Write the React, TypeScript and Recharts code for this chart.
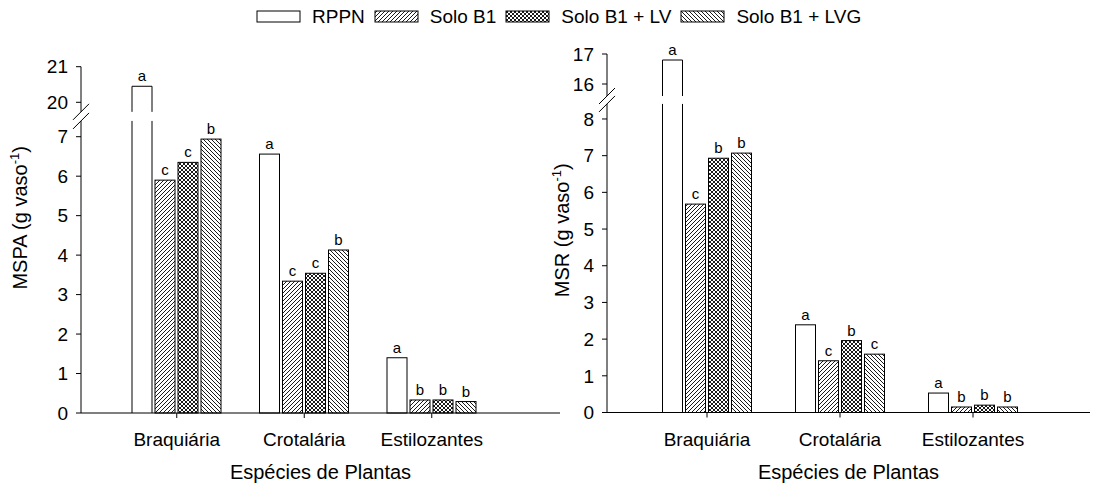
import React from 'react'
import {
  Bar,
  BarChart,
  LabelList,
  Legend,
  ReferenceArea,
  XAxis,
  YAxis,
} from 'recharts'

const categories = ['Braquiária', 'Crotalária', 'Estilozantes']
const seriesNames = ['RPPN', 'Solo B1', 'Solo B1 + LV', 'Solo B1 + LVG']

// MSPA (g vaso-1)
const mspaRppn = [20.45, 6.56, 1.4]
const mspaB1 = [5.9, 3.34, 0.33]
const mspaLv = [6.35, 3.54, 0.33]
const mspaLvg = [6.94, 4.13, 0.29]
const mspaLetters = [
  ['a', 'c', 'c', 'b'],
  ['a', 'c', 'c', 'b'],
  ['a', 'b', 'b', 'b'],
]
const mspaLowTicks = [0, 1, 2, 3, 4, 5, 6, 7]
const mspaHighTicks = [20, 21]

// MSR (g vaso-1)
const msrRppn = [16.8, 2.39, 0.53]
const msrB1 = [5.68, 1.41, 0.15]
const msrLv = [6.93, 1.96, 0.2]
const msrLvg = [7.07, 1.59, 0.15]
const msrLetters = [
  ['a', 'c', 'b', 'b'],
  ['a', 'c', 'b', 'c'],
  ['a', 'b', 'b', 'b'],
]
const msrLowTicks = [0, 1, 2, 3, 4, 5, 6, 7, 8]
const msrHighTicks = [16, 17]

// broken axis: below gapLow values are drawn as is, above gapHigh they are squeezed
type Brk = { gapLow: number; gapHigh: number; base: number; baseAt: number; k: number }
const mspaBreak: Brk = { gapLow: 7.4, gapHigh: 7.63, base: 20, baseAt: 7.872, k: 0.902 }
const msrBreak: Brk = { gapLow: 8.41, gapHigh: 8.626, base: 16, baseAt: 8.953, k: 0.818 }

const toDisp = (v: number, b: Brk) => (v <= b.gapLow ? v : b.baseAt + (v - b.base) * b.k)
const fromDisp = (d: number, b: Brk) => (d <= b.gapLow ? d : b.base + (d - b.baseAt) / b.k)

function buildRows(series: number[][], letters: string[][], b: Brk) {
  return categories.map((name, i) => {
    const row: Record<string, string | number> = { name }
    series.forEach((s, j) => {
      row['v' + j] = toDisp(s[i], b)
      row['l' + j] = letters[i][j]
    })
    return row
  })
}

const FONT = '"Liberation Sans", Arial, sans-serif'

const fills = (p: string) => ['#fff', `url(#${p}-fwd)`, `url(#${p}-cross)`, `url(#${p}-back)`]

function Patterns({ p }: { p: string }) {
  return (
    <defs>
      <pattern id={`${p}-fwd`} patternUnits="userSpaceOnUse" width="4" height="4">
        <rect width="4" height="4" fill="#fff" />
        <path d="M-1,1 l2,-2 M0,4 l4,-4 M3,5 l2,-2" stroke="#000" strokeWidth="0.9" />
      </pattern>
      <pattern id={`${p}-back`} patternUnits="userSpaceOnUse" width="4" height="4">
        <rect width="4" height="4" fill="#fff" />
        <path d="M-1,3 l2,2 M0,0 l4,4 M3,-1 l2,2" stroke="#000" strokeWidth="0.9" />
      </pattern>
      <pattern id={`${p}-cross`} patternUnits="userSpaceOnUse" width="4" height="4">
        <rect width="4" height="4" fill="#fff" />
        <path d="M0,0 l4,4 M4,0 l-4,4" stroke="#000" strokeWidth="0.9" />
      </pattern>
    </defs>
  )
}

function makeShape(fill: string, key: string, b: Brk) {
  return (props: any) => {
    const { x, y, width, height, payload } = props
    const d = payload[key]
    if (!width || !height || d <= 0) return <g />
    const base = y + height
    if (d <= b.gapHigh)
      return <rect x={x} y={y} width={width} height={height} fill={fill} stroke="#000" />
    const ppu = height / d
    const yLow = base - b.gapLow * ppu
    const yHigh = base - b.gapHigh * ppu
    return (
      <g>
        <rect x={x} y={yLow} width={width} height={base - yLow} fill={fill} />
        <rect x={x} y={y} width={width} height={yHigh - y} fill={fill} />
        <path
          d={`M${x},${base}V${yLow}M${x + width},${yLow}V${base}M${x},${yHigh}V${y}H${x + width}V${yHigh}`}
          fill="none"
          stroke="#000"
        />
      </g>
    )
  }
}

// y axis line with the break marks; the area spans the whole y domain
function makeAxisShape(b: Brk, top: number, padLeft: number) {
  return (props: any) => {
    const { x, y, height } = props
    if (height == null) return <g />
    const ax = x - padLeft
    const base = y + height
    const ppu = height / top
    const yLow = base - b.gapLow * ppu
    const yHigh = base - b.gapHigh * ppu
    return (
      <g stroke="#000" fill="none">
        <line x1={ax} y1={base} x2={ax} y2={yLow} />
        <line x1={ax} y1={yHigh} x2={ax} y2={y} />
        <line x1={ax - 8} y1={yLow + 8} x2={ax + 8} y2={yLow - 8} />
        <line x1={ax - 8} y1={yHigh + 8} x2={ax + 8} y2={yHigh - 8} />
      </g>
    )
  }
}

function LegendContent() {
  const f = fills('pa')
  return (
    <div style={{ display: 'flex', alignItems: 'center', paddingLeft: 256, fontSize: 19, color: '#000' }}>
      {seriesNames.map((n, i) => (
        <span key={n} style={{ display: 'flex', alignItems: 'center', marginRight: 9 }}>
          <svg width={46} height={14}>
            <rect x={1} y={1} width={43} height={11} fill={f[i]} stroke="#000" />
          </svg>
          <span style={{ marginLeft: 10 }}>{n}</span>
        </span>
      ))}
    </div>
  )
}

function Panel({
  p,
  rows,
  brk,
  lowTicks,
  highTicks,
  yLabel,
  width,
  left,
  margin,
  yAxisWidth,
  padding,
  labelX,
  labelShift,
  legend = false,
}: {
  p: string
  rows: Record<string, string | number>[]
  brk: Brk
  lowTicks: number[]
  highTicks: number[]
  yLabel: string
  width: number
  left: number
  margin: { top: number; right: number; bottom: number; left: number }
  yAxisWidth: number
  padding: { left: number; right: number }
  labelX: number
  labelShift: number
  legend?: boolean
}) {
  const f = fills(p)
  const top = toDisp(highTicks[highTicks.length - 1], brk)
  const ticks = [...lowTicks, ...highTicks.map((v) => toDisp(v, brk))]
  return (
    <div style={{ position: 'absolute', left, top: 0 }}>
      <BarChart width={width} height={486} data={rows} margin={margin} barSize={20} barGap={3}>
        <Patterns p={p} />
        <XAxis
          dataKey="name"
          padding={padding}
          height={73}
          tickSize={5}
          tickMargin={15}
          stroke="#000"
          tick={{ fill: '#000', fontSize: 19 }}
          label={{ value: 'Espécies de Plantas', position: 'insideBottom', offset: 7, fill: '#000', fontSize: 20 }}
        />
        <YAxis
          type="number"
          domain={[0, top]}
          ticks={ticks}
          interval={0}
          width={yAxisWidth}
          axisLine={false}
          tickSize={5}
          tickMargin={8}
          stroke="#000"
          tick={{ fill: '#000', fontSize: 19 }}
          tickFormatter={(d: number) => String(Math.round(fromDisp(d, brk)))}
          label={{
            content: (lp: any) => {
              const vb = lp.viewBox || { x: 0, y: 0, height: 0 }
              const cx = vb.x + labelX
              const cy = vb.y + vb.height / 2 + labelShift
              return (
                <text transform={`translate(${cx},${cy}) rotate(-90)`} textAnchor="middle" fontSize={20} fill="#000">
                  {yLabel} (g vaso
                  <tspan dy={-8} fontSize={13}>
                    -1
                  </tspan>
                  <tspan dy={8}>)</tspan>
                </text>
              )
            },
          }}
        />
        {legend && (
          <Legend
            layout="horizontal"
            verticalAlign="middle"
            align="center"
            content={() => <LegendContent />}
            wrapperStyle={{ left: 0, top: 6, width: 1095, height: 22 }}
          />
        )}
        {[0, 1, 2, 3].map((j) => (
          <Bar
            key={j}
            dataKey={'v' + j}
            name={seriesNames[j]}
            fill={f[j]}
            stroke="#000"
            shape={makeShape(f[j], 'v' + j, brk)}
            isAnimationActive={false}
          >
            <LabelList dataKey={'l' + j} position="top" offset={5} fontSize={15} fill="#000" />
          </Bar>
        ))}
        <ReferenceArea y1={0} y2={top} fill="none" shape={makeAxisShape(brk, top, padding.left)} />
      </BarChart>
    </div>
  )
}

export default function App() {
  const mspaRows = buildRows([mspaRppn, mspaB1, mspaLv, mspaLvg], mspaLetters, mspaBreak)
  const msrRows = buildRows([msrRppn, msrB1, msrLv, msrLvg], msrLetters, msrBreak)
  return (
    <div
      style={{
        position: 'fixed',
        left: 0,
        top: 0,
        width: 1095,
        height: 486,
        background: '#fff',
        fontFamily: FONT,
      }}
    >
      <Panel
        p="pa"
        rows={mspaRows}
        brk={mspaBreak}
        lowTicks={mspaLowTicks}
        highTicks={mspaHighTicks}
        yLabel="MSPA"
        width={565}
        left={0}
        margin={{ top: 66.7, right: 5, bottom: 0, left: 0 }}
        yAxisWidth={81}
        padding={{ left: 32, right: 64.5 }}
        labelX={27}
        labelShift={-22}
        legend
      />
      <Panel
        p="pb"
        rows={msrRows}
        brk={msrBreak}
        lowTicks={msrLowTicks}
        highTicks={msrHighTicks}
        yLabel="MSR"
        width={555}
        left={540}
        margin={{ top: 54, right: 5, bottom: 0.5, left: 0 }}
        yAxisWidth={67}
        padding={{ left: 33.5, right: 50.5 }}
        labelX={29}
        labelShift={-3}
      />
    </div>
  )
}
